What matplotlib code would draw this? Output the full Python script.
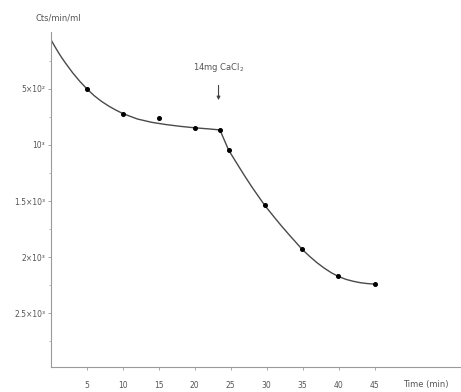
import numpy as np
import matplotlib
matplotlib.use("Agg")
import matplotlib.pyplot as plt

# measured points (time in min, counts/min/ml)
pt_time = [5, 10, 15, 20, 23.5, 24.7, 29.7, 34.9, 39.9, 45]
pt_cts = [500, 723, 759, 848, 866, 1045, 1536, 1929, 2170, 2241]

# hand-drawn curve through the points
curve_time = [0, 0.5, 1, 1.5, 2, 3, 4, 5, 6, 7, 8, 9, 10, 12, 14, 16, 18, 20,
              22, 23.5, 24.7, 26, 27, 28, 29, 29.7, 31, 32, 33, 34, 34.9, 36,
              37, 38, 39, 39.9, 41, 42, 43, 44, 45]
curve_cts = [62, 118, 172, 222, 268, 355, 432, 500, 560, 610, 652, 688, 720,
             768, 798, 818, 834, 847, 857, 866, 1045, 1180, 1282, 1380, 1472,
             1536, 1640, 1718, 1792, 1864, 1929, 1995, 2050, 2098, 2140, 2170,
             2198, 2215, 2228, 2236, 2241]

x_ticks = [5, 10, 15, 20, 25, 30, 35, 40, 45]
y_ticks = [500, 1000, 1500, 2000, 2500]
y_labels = ["5×10²", "10³", "1.5×10³", "2×10³", "2.5×10³"]

fig = plt.figure(figsize=(4.61, 3.92), dpi=100)
ax = fig.add_axes([0.1106, 0.0638, 0.889, 0.855])

ax.plot(curve_time, curve_cts, color="#4a4a4a", lw=1.0)
ax.plot(pt_time, pt_cts, "o", color="black", ms=2.6)

ax.set_xlim(0, 57)
ax.set_ylim(2980, -9)

ax.set_xticks(x_ticks)
ax.set_xticklabels([str(t) for t in x_ticks])
ax.set_yticks(y_ticks)
ax.set_yticklabels(y_labels)
ax.set_yticks([250, 750, 1250, 1750, 2250, 2750], minor=True)

for s in ["top", "right"]:
    ax.spines[s].set_visible(False)
for s in ["left", "bottom"]:
    ax.spines[s].set_color("#9a9a9a")
    ax.spines[s].set_linewidth(0.8)

ax.tick_params(axis="both", which="major", length=2, width=0.6, color="#9a9a9a",
               labelsize=5.5, labelcolor="#555555")
ax.tick_params(axis="x", pad=8)
ax.tick_params(axis="y", pad=2)
ax.tick_params(axis="y", which="minor", length=1.5, width=0.6, color="#b0b0b0")

ax.annotate("14mg CaCl$_2$", xy=(23.3, 600), xytext=(23.3, 312),
            ha="center", va="center", fontsize=6, color="#555555",
            arrowprops=dict(arrowstyle="-|>", color="#444444", lw=0.8,
                            mutation_scale=5, shrinkA=6, shrinkB=0))

fig.text(35 / 461, 1 - 18 / 392, "Cts/min/ml", fontsize=6, color="#555555",
         va="center", ha="left")
fig.text(403 / 461, 1 - 384 / 392, "Time (min)", fontsize=6, color="#555555",
         va="center", ha="left")

fig.savefig("out.png", dpi=100)
